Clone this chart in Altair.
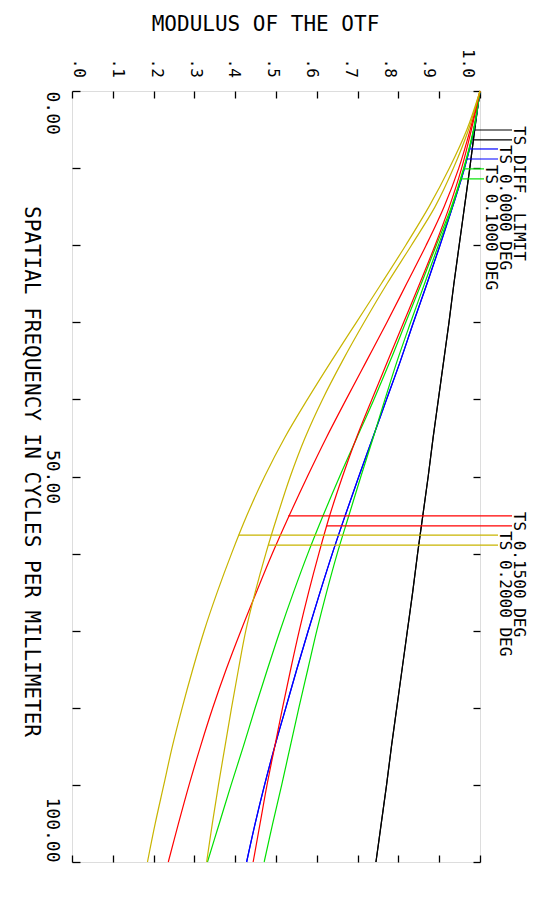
import altair as alt
import pandas as pd

FONT = "DejaVu Sans Mono"

# ---------------- data ----------------
freqs = [0, 5, 10, 15, 20, 25, 30, 35, 40, 45, 50, 55, 60, 65, 70, 75, 80, 85, 90, 95, 100]

diff_limit = [1.0, 0.987, 0.975, 0.962, 0.949, 0.936, 0.924, 0.911, 0.898, 0.885, 0.873,
              0.860, 0.847, 0.835, 0.822, 0.809, 0.796, 0.783, 0.771, 0.758, 0.745]
deg000 = [1.0, 0.985, 0.962, 0.933, 0.902, 0.870, 0.837, 0.805, 0.771, 0.737, 0.703,
          0.670, 0.638, 0.608, 0.579, 0.551, 0.524, 0.497, 0.472, 0.449, 0.428]
deg010_t = [1.0, 0.984, 0.960, 0.930, 0.893, 0.856, 0.818, 0.780, 0.740, 0.698, 0.656,
            0.616, 0.578, 0.543, 0.510, 0.479, 0.449, 0.420, 0.390, 0.361, 0.332]
deg010_s = [1.0, 0.985, 0.961, 0.932, 0.898, 0.864, 0.830, 0.797, 0.767, 0.738, 0.708,
            0.679, 0.650, 0.624, 0.600, 0.578, 0.556, 0.535, 0.514, 0.492, 0.471]
deg015_t = [1.0, 0.976, 0.948, 0.912, 0.868, 0.820, 0.772, 0.722, 0.672, 0.623, 0.577,
            0.533, 0.491, 0.452, 0.414, 0.378, 0.345, 0.315, 0.287, 0.261, 0.236]
deg015_s = [1.0, 0.979, 0.955, 0.925, 0.890, 0.852, 0.813, 0.774, 0.735, 0.697, 0.663,
            0.632, 0.605, 0.580, 0.557, 0.536, 0.516, 0.497, 0.478, 0.461, 0.444]
deg020_t = [1.0, 0.968, 0.925, 0.875, 0.818, 0.758, 0.697, 0.636, 0.577, 0.521, 0.472,
            0.429, 0.391, 0.356, 0.324, 0.296, 0.270, 0.246, 0.225, 0.204, 0.185]
deg020_s = [1.0, 0.972, 0.935, 0.890, 0.832, 0.772, 0.716, 0.663, 0.614, 0.571, 0.535,
            0.504, 0.475, 0.449, 0.426, 0.408, 0.391, 0.375, 0.359, 0.344, 0.330]

curve_series = ["DIFF T", "DIFF S", "0.0000 T", "0.0000 S", "0.1000 T", "0.1000 S",
                "0.1500 T", "0.1500 S", "0.2000 T", "0.2000 S"]
curve_groups = ["DIFF", "DIFF", "0.0000", "0.0000", "0.1000", "0.1000",
                "0.1500", "0.1500", "0.2000", "0.2000"]
curve_values = [diff_limit, diff_limit, deg000, deg000, deg010_t, deg010_s,
                deg015_t, deg015_s, deg020_t, deg020_s]

groups = ["DIFF", "0.0000", "0.1000", "0.1500", "0.2000"]
group_colors = ["#000000", "#0000ff", "#00e000", "#ff0000", "#c8b400"]

leg_labels = ["TS DIFF. LIMIT", "TS 0.0000 DEG", "TS 0.1000 DEG", "TS 0.1500 DEG", "TS 0.2000 DEG"]
leg_freq_t = [5.06, 7.52, 10.1, 55.1, 57.6]
leg_freq_s = [6.35, 8.82, 11.4, 56.4, 58.9]
leg_mtf_t = [0.987, 0.975, 0.961, 0.530, 0.408]
leg_mtf_s = [0.982, 0.967, 0.951, 0.624, 0.481]
leg_slot = [0, 1, 2, 0, 1]

x_tick_values = [0.0, 0.1, 0.2, 0.3, 0.4, 0.5, 0.6, 0.7, 0.8, 0.9, 1.0]
x_tick_labels = [".0", ".1", ".2", ".3", ".4", ".5", ".6", ".7", ".8", ".9", "1.0"]
y_tick_values = [0, 10, 20, 30, 40, 50, 60, 70, 80, 90, 100]

# ---------------- tables ----------------
rows = []
for s, g, vals in zip(curve_series, curve_groups, curve_values):
    for f, m in zip(freqs, vals):
        rows.append({"series": s, "grp": g, "freq": f, "mtf": m})
curves = pd.DataFrame(rows)

leg_rows = []
for g, ft, fs, mt, ms, sl in zip(groups, leg_freq_t, leg_freq_s, leg_mtf_t, leg_mtf_s, leg_slot):
    leg_rows.append({"grp": g, "freq": ft, "mtf": mt, "slot": sl})
    leg_rows.append({"grp": g, "freq": fs, "mtf": ms, "slot": sl})
leg_lines = pd.DataFrame(leg_rows)
leg_text = pd.DataFrame({"grp": groups, "label": leg_labels, "freq": leg_freq_t, "slot": leg_slot})
xlab = pd.DataFrame({"v": x_tick_values, "label": x_tick_labels})

# ---------------- scales / axes ----------------
W, H = 408, 771
xs = alt.Scale(domain=[0, 1], nice=False, zero=False)
ys = alt.Scale(domain=[0, 100], nice=False, zero=False, reverse=True)
cs = alt.Scale(domain=groups, range=group_colors)

top_axis = alt.Axis(orient="top", values=x_tick_values, labels=False, domain=False,
                    grid=False, tickSize=7, offset=-7, tickColor="black", tickWidth=1.3,
                    title="MODULUS OF THE OTF", titleFont=FONT, titleFontSize=21,
                    titleFontWeight="normal", titleColor="black", titleX=193, titleY=-68,
                    titleAlign="center", titleBaseline="alphabetic", titleAngle=0)
left_axis = alt.Axis(orient="left", values=y_tick_values, domain=False, grid=False,
                     tickSize=8, offset=-8, tickColor="black", tickWidth=1.3,
                     labelExpr="datum.value % 50 == 0 ? format(datum.value, '.2f') : ''",
                     labelAngle=90, labelBaseline="top",
                     labelAlign={"condition": [{"test": "datum.value == 0", "value": "left"},
                                               {"test": "datum.value == 100", "value": "right"}],
                                 "value": "center"},
                     labelPadding=12, labelFont=FONT, labelFontSize=18, labelColor="black",
                     title="SPATIAL FREQUENCY IN CYCLES PER MILLIMETER", titleFont=FONT,
                     titleFontSize=21, titleFontWeight="normal", titleColor="black",
                     titleAngle=90, titleX=-39, titleY=380, titleAlign="center",
                     titleBaseline="top")
bottom_axis = alt.Axis(orient="bottom", values=x_tick_values, labels=False, domain=False,
                       grid=False, tickSize=7, offset=-7, tickColor="black", tickWidth=1.3,
                       title=None)
right_axis = alt.Axis(orient="right", values=y_tick_values, labels=False, domain=False,
                      grid=False, tickSize=7, offset=-7, tickColor="black", tickWidth=1.3,
                      title=None)

lines = alt.Chart(curves).mark_line(strokeWidth=1.2, interpolate="catmull-rom").encode(
    x=alt.X("mtf:Q", scale=xs, axis=top_axis),
    y=alt.Y("freq:Q", scale=ys, axis=left_axis),
    color=alt.Color("grp:N", scale=cs, legend=None),
    detail="series:N",
    order="freq:Q",
)

rule_end = [440, 426, 412]
text_x = [442, 428, 414]

layers = [lines]
for sl in range(3):
    first = sl == 0
    r = alt.Chart(leg_lines).transform_filter(alt.datum.slot == sl).mark_rule(strokeWidth=1.2).encode(
        x=alt.X("mtf:Q", scale=xs, axis=bottom_axis if first else None),
        x2=alt.value(rule_end[sl]),
        y=alt.Y("freq:Q", scale=ys, axis=right_axis if first else None),
        color=alt.Color("grp:N", scale=cs, legend=None),
    )
    t = alt.Chart(leg_text).transform_filter(alt.datum.slot == sl).mark_text(
        angle=90, align="left", baseline="alphabetic", font=FONT, fontSize=16,
        color="black", dx=-4).encode(
        x=alt.value(text_x[sl]),
        y=alt.Y("freq:Q", scale=ys, axis=None),
        text="label:N",
    )
    layers += [r, t]

toplabels = alt.Chart(xlab).transform_calculate(lx="datum.v * 0.953 + 0.017").mark_text(
    angle=90, align="right", baseline="middle", font=FONT, fontSize=16, color="black").encode(
    x=alt.X("lx:Q", scale=xs, axis=None),
    y=alt.value(-13),
    text="label:N",
)
layers.append(toplabels)

chart = alt.layer(*layers).resolve_axis(x="independent", y="independent").properties(
    width=W, height=H,
    autosize=alt.AutoSizeParams(type="none"),
    padding={"left": 64, "top": 83, "right": 50, "bottom": 20},
).configure_view(stroke="#111111", strokeWidth=1.6).configure(background="white")

chart.save("out.html", embed_options={"renderer": "svg", "actions": False})
